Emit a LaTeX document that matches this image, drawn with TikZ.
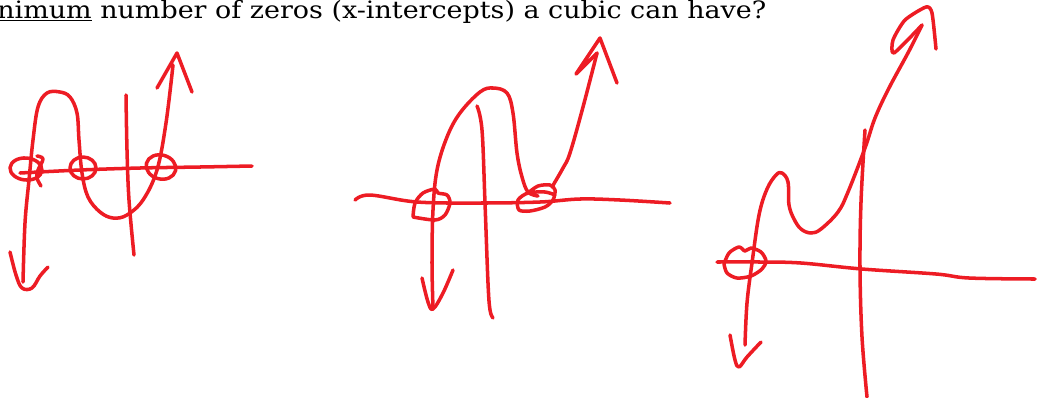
\documentclass[tikz,border=0pt]{standalone}
\usepackage{fontspec}
\setmainfont{DejaVu Serif}
\definecolor{penred}{RGB}{237,28,36}
\begin{document}
\begin{tikzpicture}[x=0.025cm, y=-0.025cm,
    pen/.style={penred, line width=2.5pt, line cap=round, line join=round},
    sketch/.style={smooth, tension=0.6}]
    \useasboundingbox (0,0) rectangle (1044,397);

    % Question
    \node[anchor=base west, inner sep=0pt, text=black] (question) at (-3,18)
        {\resizebox{19.22cm}{\height}{\fontsize{17}{20}\selectfont\underline{nimum} number of zeros (x-intercepts) a cubic can have?}};

    % Graph 1: three zeros
    \draw[pen] plot[sketch] coordinates {(20,173) (80,170) (140,168) (200,167) (252,166)};
    \draw[pen] plot[sketch] coordinates {(126,95) (127,150) (129,200) (134,255)};
    \draw[pen] plot[sketch] coordinates {(173,65) (166,123) (157,170) (143,200) (127,215) (113,218)
        (100,212) (88,197) (82,173) (79,140) (77,113) (70,97) (60,92) (47,93) (38,107)
        (33,140) (29,180) (25,223) (23,282)};
    \draw[pen] (157,88) -- (177,53) -- (192,92);
    \draw[pen] plot[sketch] coordinates {(10,252) (16,275) (22,288) (32,288) (40,276) (48,267)};
    \draw[pen, rotate around={-5:(26,169)}] (26,169) ellipse (16 and 11);
    \draw[pen] plot[sketch] coordinates {(37,156) (43,159) (38,170) (37,178) (41,186)};
    \draw[pen] (83,168) ellipse (13 and 11);
    \draw[pen, rotate around={-15:(161,167)}] (161,167) ellipse (15 and 12);

    % Graph 2: two zeros
    \draw[pen] plot[sketch] coordinates {(355,200) (370,195) (417,202) (480,203) (540,202)
        (580,199) (620,200) (670,203)};
    \draw[pen] plot[sketch] coordinates {(477,106) (482,130) (485,203) (488,283) (490,310) (493,318)};
    \draw[pen] plot[sketch] coordinates {(433,308) (432,263) (433,210) (437,170) (447,137)
        (460,113) (480,92) (493,88) (507,93) (513,113) (517,153) (522,177) (528,192)
        (538,196)};
    \draw[pen] plot[sketch] coordinates {(552,187) (563,168) (570,153) (583,107) (597,53)};
    \draw[pen] (597,53) -- (576,74) -- (600,38) -- (617,83);
    \draw[pen] plot[sketch] coordinates {(422,278) (428,302) (433,309) (443,293) (453,270)};
    \draw[pen] plot[sketch, tension=0.5] coordinates {(413,217) (415,203) (423,193) (435,189)
        (438,193) (447,195) (450,203) (445,215) (435,220) (413,217)};
    \draw[pen] plot[sketch, tension=0.5] coordinates {(528,193) (538,186) (550,185) (555,190)
        (553,200) (545,207) (530,211) (519,210) (518,200) (528,193) (545,192) (555,195)};

    % Graph 3: one zero
    \draw[pen] plot[sketch] coordinates {(717,262) (760,262) (801,263) (862,269) (936,274)
        (969,278) (1035,279)};
    \draw[pen] plot[sketch] coordinates {(865,130) (861,202) (860,269) (862,337) (867,397)};
    \draw[pen] plot[sketch] coordinates {(745,345) (747,303) (752,263) (759,215) (767,189)
        (776,175) (782,173) (788,182) (789,205) (794,219) (801,229) (811,233) (821,229)
        (838,212) (848,192) (865,148) (875,118) (889,88) (909,51) (922,25)};
    \draw[pen] plot[sketch, tension=0.4] coordinates {(922,25) (894,53) (893,40) (905,20)
        (926,7) (932,13) (936,49)};
    \draw[pen] plot[sketch] coordinates {(730,335) (735,360) (739,367) (747,357) (761,342)};
    \draw[pen] plot[sketch, tension=0.5] coordinates {(724,264) (729,253) (739,247) (745,251)
        (751,248) (761,252) (766,261) (762,269) (751,276) (737,278) (727,273) (724,264)};
\end{tikzpicture}
\end{document}
